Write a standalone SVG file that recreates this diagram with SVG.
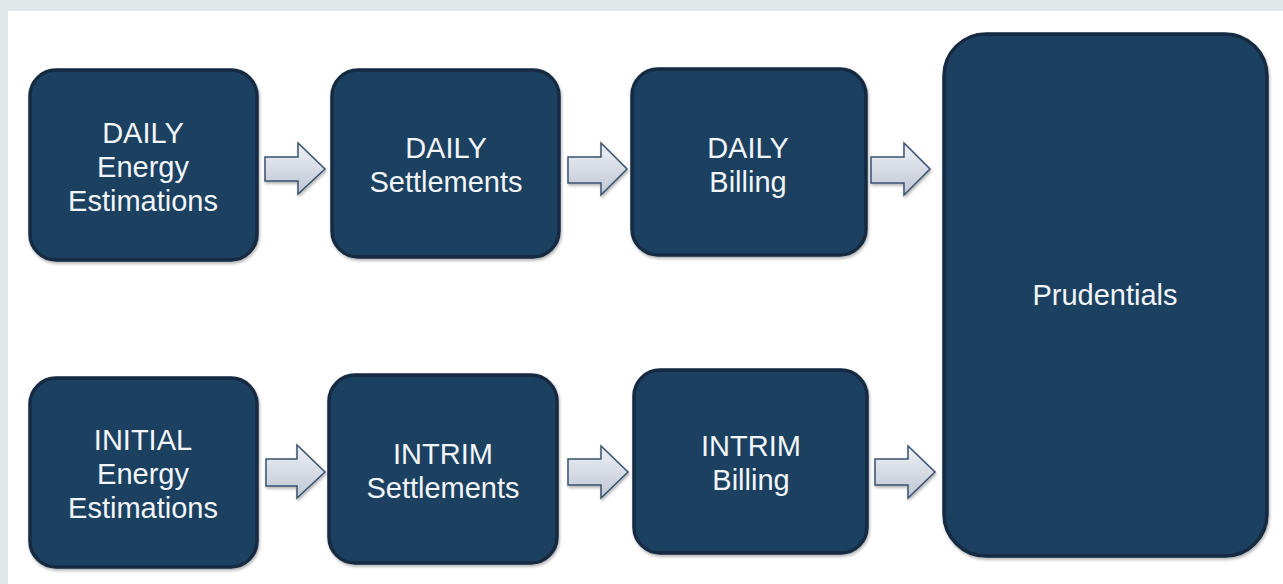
<svg xmlns="http://www.w3.org/2000/svg" width="1283" height="584" viewBox="0 0 1283 584">
<defs>
<linearGradient id="ag" x1="0" y1="0" x2="0" y2="1">
<stop offset="0" stop-color="#eef1f6"/>
<stop offset="1" stop-color="#bfc6d3"/>
</linearGradient>
<filter id="sh" x="-10%" y="-10%" width="125%" height="130%">
<feDropShadow dx="1" dy="2" stdDeviation="1.5" flood-color="#000" flood-opacity="0.3"/>
</filter>
</defs>
<style>
.box{fill:#1f3f60;stroke:#132a43;stroke-width:3.5;filter:url(#sh)}
.arr{fill:url(#ag);stroke:#3a5170;stroke-width:1.5;stroke-linejoin:miter;filter:url(#sh)}
.t{font-family:"Liberation Sans",Arial,sans-serif;font-size:29px;fill:#f2f5f9;text-anchor:middle}
</style>
<rect x="0" y="0" width="1283" height="584" fill="#e1e8e9"/>
<rect x="8" y="11" width="1275" height="573" fill="#ffffff"/>
<g id="connectors">
<polygon class="arr" points="265,157 298,157 298,143 325,169 298,194 298,181 265,181"/>
<polygon class="arr" points="568,157 601,157 601,143 627,169 601,195 601,183 568,183"/>
<polygon class="arr" points="871,157 904,157 904,143 930,169 904,195 904,183 871,183"/>
<polygon class="arr" points="266,459 297,459 297,445 325,472 297,498 297,486 266,486"/>
<polygon class="arr" points="568,459 601,459 601,446 628,472 601,498 601,485 568,485"/>
<polygon class="arr" points="875,459 908,459 908,446 935,472 908,498 908,485 875,485"/>
</g>
<g id="n1"><rect class="box" x="30" y="70" width="227" height="190" rx="26"/>
<text class="t" x="143" y="143">DAILY</text><text class="t" x="143" y="177">Energy</text><text class="t" x="143" y="211">Estimations</text></g>
<g id="n2"><rect class="box" x="332" y="70" width="227" height="187" rx="26"/>
<text class="t" x="446" y="158">DAILY</text><text class="t" x="446" y="192">Settlements</text></g>
<g id="n3"><rect class="box" x="632" y="69" width="234" height="186" rx="26"/>
<text class="t" x="748" y="158">DAILY</text><text class="t" x="748" y="192">Billing</text></g>
<g id="n4"><rect class="box" x="944" y="34" width="323" height="522" rx="42"/>
<text class="t" x="1105" y="305">Prudentials</text></g>
<g id="n5"><rect class="box" x="30" y="378" width="227" height="189" rx="26"/>
<text class="t" x="143" y="450">INITIAL</text><text class="t" x="143" y="484">Energy</text><text class="t" x="143" y="518">Estimations</text></g>
<g id="n6"><rect class="box" x="329" y="375" width="228" height="188" rx="26"/>
<text class="t" x="443" y="464">INTRIM</text><text class="t" x="443" y="498">Settlements</text></g>
<g id="n7"><rect class="box" x="634" y="370" width="233" height="183" rx="26"/>
<text class="t" x="751" y="456">INTRIM</text><text class="t" x="751" y="490">Billing</text></g>
</svg>
